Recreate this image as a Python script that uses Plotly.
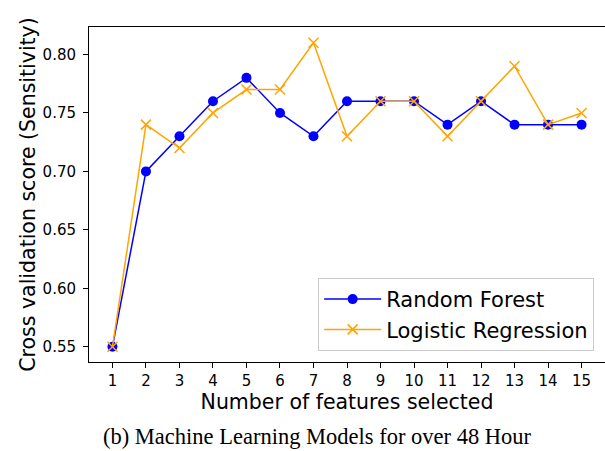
import plotly.graph_objects as go

features = list(range(1, 16))
rf_scores = [0.55, 0.70, 0.73, 0.76, 0.78, 0.75, 0.73, 0.76, 0.76, 0.76, 0.74, 0.76, 0.74, 0.74, 0.74]
lr_scores = [0.55, 0.74, 0.72, 0.75, 0.77, 0.77, 0.81, 0.73, 0.76, 0.76, 0.73, 0.76, 0.79, 0.74, 0.75]
y_ticks = [0.55, 0.60, 0.65, 0.70, 0.75, 0.80]

fig = go.Figure()
fig.add_trace(go.Scatter(
    x=features, y=rf_scores, mode="lines+markers", name="Random Forest",
    line=dict(color="blue", width=1.5),
    marker=dict(symbol="circle", size=10, color="blue"),
))
fig.add_trace(go.Scatter(
    x=features, y=lr_scores, mode="lines+markers", name="Logistic Regression",
    line=dict(color="orange", width=1.5),
    marker=dict(symbol="x-thin-open", size=10, color="orange", line=dict(color="orange", width=1.5)),
))

axis_common = dict(
    showgrid=False, zeroline=False, showline=True, linecolor="black", linewidth=1,
    mirror=True, ticks="outside", ticklen=5, tickcolor="black",
    tickfont=dict(family="DejaVu Sans", size=15, color="black"),
)
fig.update_xaxes(
    range=[0.3, 15.7], tickvals=features,
    title=dict(text="Number of features selected", font=dict(family="DejaVu Sans", size=20.5, color="black"), standoff=3),
    **axis_common,
)
fig.update_yaxes(
    range=[0.537, 0.8235], tickvals=y_ticks, ticktext=[f"{v:.2f}" for v in y_ticks],
    ticklabelstandoff=4,
    title=dict(text="Cross validation score (Sensitivity)", font=dict(family="DejaVu Sans", size=20.5, color="black"), standoff=1),
    **axis_common,
)

fig.add_annotation(
    text="(b) Machine Learning Models for over 48 Hour",
    xref="paper", yref="paper", x=(317.5 - 89) / 516, y=(362 - 436) / 335,
    xanchor="center", yanchor="middle",
    showarrow=False, font=dict(family="Liberation Serif", size=22.5, color="black"),
)

fig.update_layout(
    width=605, height=451,
    margin=dict(l=89, r=0, t=27, b=89),
    paper_bgcolor="white", plot_bgcolor="white",
    font=dict(family="DejaVu Sans"),
    legend=dict(
        x=0.979, y=0.033, xanchor="right", yanchor="bottom",
        bgcolor="rgba(255,255,255,0.8)", bordercolor="#cccccc", borderwidth=1,
        font=dict(family="DejaVu Sans", size=21, color="black"),
        itemwidth=57,
    ),
)

fig.write_html("out.html")
